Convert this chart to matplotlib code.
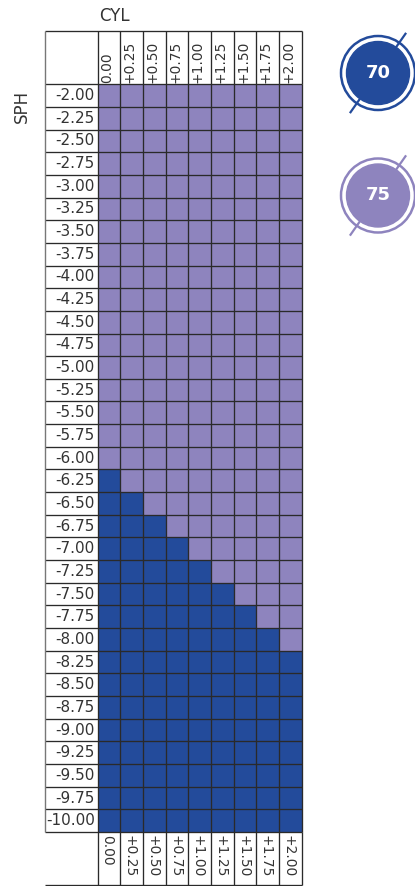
import numpy as np
import matplotlib
matplotlib.use("Agg")
import matplotlib.pyplot as plt
from matplotlib.colors import ListedColormap
from matplotlib.patches import Circle

# SPH rows (top to bottom) and CYL columns
SPH_LABELS = ["-2.00", "-2.25", "-2.50", "-2.75", "-3.00", "-3.25", "-3.50", "-3.75",
              "-4.00", "-4.25", "-4.50", "-4.75", "-5.00", "-5.25", "-5.50", "-5.75",
              "-6.00", "-6.25", "-6.50", "-6.75", "-7.00", "-7.25", "-7.50", "-7.75",
              "-8.00", "-8.25", "-8.50", "-8.75", "-9.00", "-9.25", "-9.50", "-9.75",
              "-10.00"]
CYL_LABELS = ["0.00", "+0.25", "+0.50", "+0.75", "+1.00", "+1.25", "+1.50", "+1.75", "+2.00"]

# first SPH (per CYL column) from which the 70 index is used; above it -> 75
INDEX70_FROM = [-6.25, -6.50, -6.75, -7.00, -7.25, -7.50, -7.75, -8.00, -8.25]

BADGE_LABELS = ["70", "75"]
BADGE_COLORS = ["#234b9b", "#8e84be"]

LINE = "#2a2a2a"
TEXT = "#333333"

sph = np.array([float(s) for s in SPH_LABELS])
thr = np.array(INDEX70_FROM)
Z = np.where(sph[:, None] <= thr[None, :], 0, 1)

n_rows, n_cols = len(SPH_LABELS), len(CYL_LABELS)
LW = 2.338   # width of the label column, in cell units
TH = 2.365   # top header height
BH = 2.339   # bottom header height

fig = plt.figure(figsize=(4.15, 8.86), dpi=100)
ax = fig.add_axes([44.7 / 415, 1 / 886, 257 / 415, 854.3 / 886])
ax.set_xlim(-LW, n_cols)
ax.set_ylim(n_rows + BH, -TH)
ax.axis("off")

ax.pcolormesh(np.arange(n_cols + 1), np.arange(n_rows + 1), Z,
              cmap=ListedColormap(BADGE_COLORS), vmin=0, vmax=1,
              edgecolors="none", antialiased=False)

# grid and table frame
kw = dict(colors=LINE, linewidth=0.95, clip_on=False)
ax.hlines(np.arange(n_rows + 1), -LW, n_cols, **kw)
ax.vlines(np.arange(n_cols + 1), 0, n_rows, **kw)
ax.hlines([-TH], -LW, n_cols, **kw)
ax.hlines([n_rows + BH], -LW, n_cols, **kw)
ax.vlines(np.arange(n_cols + 1), -TH, 0, **kw)
ax.vlines(np.arange(n_cols + 1), n_rows, n_rows + BH, **kw)
ax.vlines([-LW], -TH, n_rows, colors="#777777", linewidth=1.0, clip_on=False)

for i, s in enumerate(SPH_LABELS):
    ax.text(-0.12, i + 0.5, s, ha="right", va="center", fontsize=11, color=TEXT)

for j, c in enumerate(CYL_LABELS):
    ax.text(j + 0.42, -0.07, c, rotation=90, ha="center", va="bottom",
            fontsize=10, color=TEXT)
    ax.text(j + 0.42, n_rows + 0.12, c, rotation=-90, ha="center", va="top",
            fontsize=10, color=TEXT)

fig.text(114 / 415, 1 - 16 / 886, "CYL", ha="center", va="center", fontsize=12, color=TEXT)
fig.text(21.5 / 415, 1 - 106 / 886, "SPH", ha="center", va="center", rotation=90,
         fontsize=12, color=TEXT)

# index badges
bx = fig.add_axes([330 / 415, (886 - 245) / 886, 85 / 415, 220 / 886])
bx.set_xlim(330, 415)
bx.set_ylim(245, 25)
bx.axis("off")
ang = np.deg2rad(55)
for k, (lab, col) in enumerate(zip(BADGE_LABELS, BADGE_COLORS)):
    cx, cy = 378, 73 + k * 122.5
    dx, dy = 49 * np.cos(ang), 49 * np.sin(ang)
    bx.plot([cx - dx, cx + dx], [cy + dy, cy - dy], color=col, lw=1.6,
            solid_capstyle="butt", clip_on=False)
    bx.add_patch(Circle((cx, cy), 37, fill=False, ec=col, lw=1.8, clip_on=False))
    bx.add_patch(Circle((cx, cy), 31.5, color=col, clip_on=False))
    bx.text(cx, cy, lab, ha="center", va="center", color="white",
            fontsize=13, fontweight="heavy")

fig.savefig("out.png", dpi=100)
